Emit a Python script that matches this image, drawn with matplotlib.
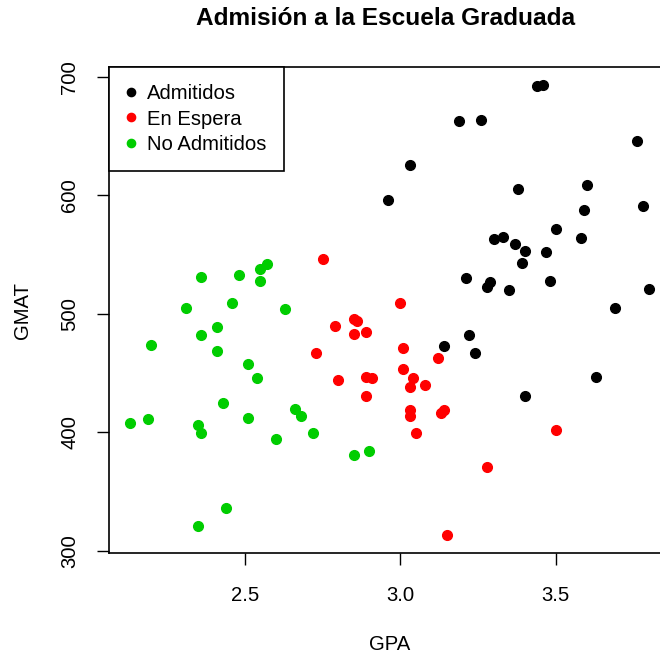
import matplotlib
matplotlib.use("Agg")
import matplotlib.pyplot as plt

plt.rcParams['font.family'] = ['Liberation Sans', 'DejaVu Sans']

# admitidos
gpa_adm = [2.96, 3.14, 3.22, 3.29, 3.69, 3.46, 3.03, 3.19, 3.63, 3.59, 3.30,
           3.40, 3.50, 3.78, 3.44, 3.48, 3.47, 3.35, 3.39, 3.28, 3.21, 3.58,
           3.33, 3.40, 3.38, 3.26, 3.60, 3.37, 3.80, 3.76, 3.24]
gmat_adm = [596, 473, 482, 527, 505, 693, 626, 663, 447, 588, 563,
            553, 572, 591, 692, 528, 552, 520, 543, 523, 530, 564,
            565, 431, 605, 664, 609, 559, 521, 646, 467]

# no admitidos
gpa_no = [2.54, 2.43, 2.20, 2.36, 2.57, 2.35, 2.51, 2.51, 2.36, 2.36, 2.66,
          2.68, 2.48, 2.46, 2.63, 2.44, 2.13, 2.41, 2.55, 2.31, 2.41, 2.19,
          2.35, 2.60, 2.55, 2.72, 2.85, 2.90]
gmat_no = [446, 425, 474, 531, 542, 406, 412, 458, 399, 482, 420,
           414, 533, 509, 504, 336, 408, 469, 538, 505, 489, 411,
           321, 394, 528, 399, 381, 384]

# en espera
gpa_esp = [2.86, 2.85, 3.14, 3.28, 2.89, 3.15, 3.50, 2.89, 2.80, 3.13, 3.01,
           2.79, 2.89, 2.91, 2.75, 2.73, 3.12, 3.08, 3.03, 3.00, 3.03, 3.05,
           2.85, 3.01, 3.03, 3.04]
gmat_esp = [494, 496, 419, 371, 447, 313, 402, 485, 444, 416, 471,
            490, 431, 446, 546, 467, 463, 440, 419, 509, 438, 399,
            483, 453, 414, 446]

grupos = ["Admitidos", "En Espera", "No Admitidos"]
colores = ["black", "#FF0000", "#00CD00"]

fs = 14.6  # base text size

fig = plt.figure(figsize=(6.6, 6.53), dpi=100)
ax = fig.add_axes([0.165, 0.1527, 0.85, 0.7443])

datos = [(gpa_adm, gmat_adm), (gpa_esp, gmat_esp), (gpa_no, gmat_no)]
for (x, y), c, g in zip(datos, colores, grupos):
    ax.plot(x, y, 'o', color=c, markersize=7, label=g, linestyle='none')

# R style 4% padding around the data range
allx = gpa_adm + gpa_no + gpa_esp
ally = gmat_adm + gmat_no + gmat_esp
dx = (max(allx) - min(allx)) * 0.04
dy = (max(ally) - min(ally)) * 0.04
ax.set_xlim(min(allx) - dx, max(allx) + dx)
ax.set_ylim(min(ally) - dy, max(ally) + dy)

ax.set_xticks([2.5, 3.0, 3.5])
ax.set_xticklabels(["2.5", "3.0", "3.5"])
ax.set_yticks([300, 400, 500, 600, 700])
ax.tick_params(axis='both', direction='out', length=8.5, width=1,
               labelsize=fs)
ax.tick_params(axis='x', pad=15)
ax.tick_params(axis='y', pad=13)
for lab in ax.get_yticklabels():
    lab.set_rotation(90)
    lab.set_va('center')
for s in ax.spines.values():
    s.set_linewidth(1.2)

ax.set_xlabel("GPA", fontsize=fs, labelpad=22)
ax.set_ylabel("GMAT", fontsize=fs, labelpad=20)
fig.text(0.584, 0.972, "Admisión a la Escuela Graduada", fontsize=17.6,
         fontweight='bold', ha='center', va='center')

leg = ax.legend(loc='upper left', borderaxespad=0, fancybox=False,
                edgecolor='black', framealpha=1, fontsize=fs,
                handletextpad=0.55, labelspacing=0.3, borderpad=0.85,
                handlelength=0.5, markerscale=0.85)
leg.get_frame().set_linewidth(1.2)

fig.savefig("out.png", dpi=100)
